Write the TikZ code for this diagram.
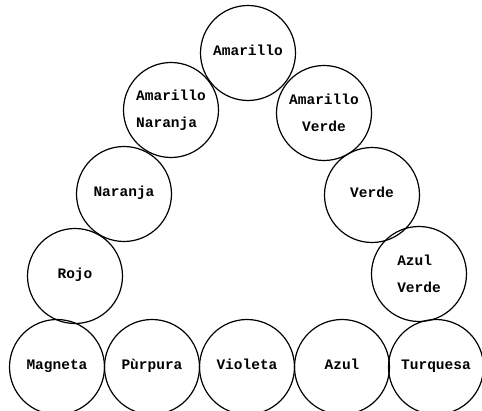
\documentclass[tikz,border=0pt]{standalone}
\usepackage{fontspec}
\newfontfamily\monofuente{Liberation Mono}
\usetikzlibrary{positioning}

\begin{document}
\begin{tikzpicture}[
    x=1pt, y=-1pt,
    tono/.style  = {circle, draw=black, line width=1.2pt, minimum size=95pt, inner sep=0pt, align=center, font=\monofuente\bfseries\fontsize{14.5}{27}\selectfont},
    linea/.style = {tono, text height=1.5ex, text depth=0.4ex}
]

    \useasboundingbox (0,0) rectangle (482,411);

    % --- Lado izquierdo ---
    \node (amarillo) [linea] at (248,53)  {Amarillo};
    \node (amnar)    [tono, align=left] at (171,110) {Amarillo\\Naranja};
    \node (naranja)  [linea] at (124,194) {Naranja};
    \node (rojo)     [linea] at (75,276)  {Rojo};

    % --- Lado derecho ---
    \node (amver)    [tono] at (324,113) {Amarillo\\Verde};
    \node (verde)    [linea] at (372,195) {Verde};
    \node (azver)    [tono, align=left] at (419,274) {Azul\\Verde};

    % --- Fila inferior ---
    \node (magneta)  [linea] at (57,367)  {Magneta};
    \node (purpura)  [linea] at (152,367) {Pùrpura};
    \node (violeta)  [linea] at (247,367) {Violeta};
    \node (azul)     [linea] at (342,367) {Azul};
    \node (turquesa) [linea] at (436,367) {Turquesa};

\end{tikzpicture}
\end{document}
